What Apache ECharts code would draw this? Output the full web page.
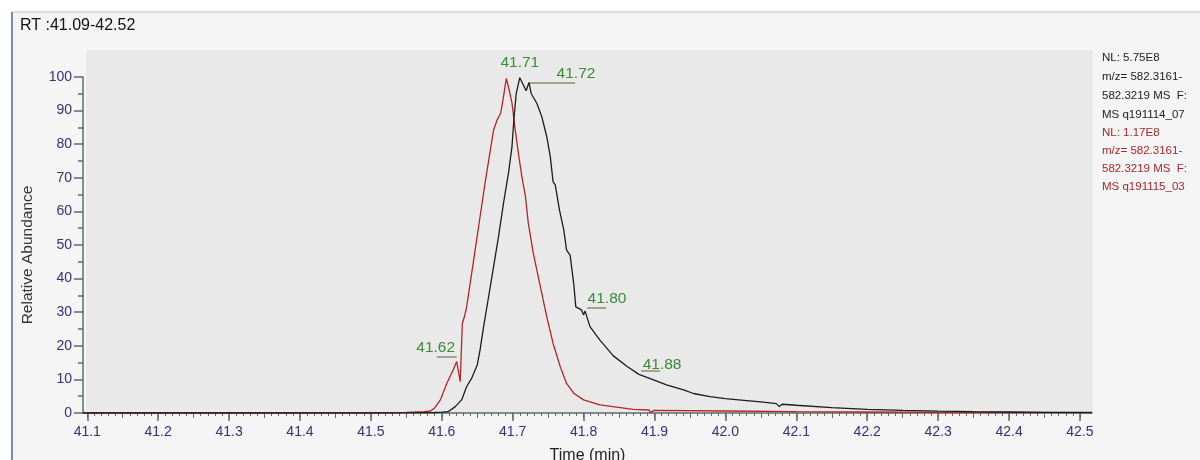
<!DOCTYPE html>
<html>
<head>
<meta charset="utf-8">
<title>RT 41.09-42.52</title>
<script src="https://cdn.jsdelivr.net/npm/echarts@6/dist/echarts.min.js"></script>
<style>
  html, body { margin: 0; padding: 0; background: #fff; }
  #main { width: 1200px; height: 460px; }
</style>
</head>
<body>
<div id="main"></div>
<script>
// black trace: NL 5.75E8, q191114_07
var blackTimes = [41.094, 41.30, 41.50, 41.56, 41.59, 41.60, 41.609, 41.619, 41.628, 41.635, 41.642, 41.650,
  41.654, 41.659, 41.666, 41.673, 41.680, 41.687, 41.694, 41.699, 41.702, 41.705, 41.710, 41.719, 41.723,
  41.726, 41.734, 41.741, 41.748, 41.753, 41.757, 41.760, 41.766, 41.772, 41.776, 41.781, 41.786, 41.789,
  41.797, 41.800, 41.802, 41.809, 41.823, 41.842, 41.861, 41.878, 41.894, 41.917, 41.941, 41.955, 41.978,
  42.00, 42.03, 42.05, 42.072, 42.076, 42.08, 42.10, 42.15, 42.20, 42.25, 42.30, 42.35, 42.40, 42.45, 42.517];
var blackValues = [0, 0, 0, 0.05, 0.15, 0.25, 0.4, 1.9, 3.9, 7.8, 10.3, 14.3,
  18.8, 25.7, 34.6, 43.5, 52.5, 62.4, 71.3, 79.3, 88.2, 95.1, 99.8, 95.9, 98.4,
  95.1, 92.2, 88.2, 82.3, 76.3, 68.8, 67.9, 60.4, 54.5, 48.5, 47.0, 38.6, 31.6,
  30.7, 29.2, 30.4, 25.7, 21.7, 17.0, 13.9, 11.5, 10.2, 8.4, 6.9, 5.8, 4.9,
  4.3, 3.7, 3.3, 2.8, 1.9, 2.6, 2.3, 1.6, 1.1, 0.8, 0.55, 0.4, 0.3, 0.2, 0.15];

// red trace: NL 1.17E8, q191115_03
var redTimes = [41.094, 41.30, 41.50, 41.55, 41.575, 41.584, 41.590, 41.598, 41.607, 41.616, 41.621, 41.626,
  41.629, 41.632, 41.635, 41.640, 41.647, 41.654, 41.661, 41.667, 41.673, 41.678, 41.683, 41.687, 41.691,
  41.694, 41.699, 41.703, 41.708, 41.713, 41.718, 41.722, 41.729, 41.739, 41.748, 41.757, 41.767, 41.776,
  41.786, 41.800, 41.823, 41.870, 41.892, 41.895, 41.899, 42.00, 42.10, 42.20, 42.30, 42.40, 42.517];
var redValues = [0, 0, 0.05, 0.2, 0.4, 0.6, 1.5, 3.9, 8.8, 12.8, 15.3, 9.3,
  26.7, 28.7, 31.6, 38.6, 48.5, 58.4, 68.4, 76.3, 84.2, 87.2, 89.2, 94.1, 99.6,
  97.1, 92.2, 85.2, 77.3, 70.3, 64.4, 56.5, 47.6, 37.6, 28.7, 20.7, 13.8, 8.8,
  5.9, 3.9, 2.4, 1.1, 0.9, 0.1, 0.8, 0.6, 0.4, 0.3, 0.2, 0.15, 0.1];

// peak annotations
var peakLabels = ['41.62', '41.71', '41.72', '41.80', '41.88'];
var peakTimes = [41.621, 41.710, 41.723, 41.802, 41.881];
var peakValues = [15.3, 99.8, 98.4, 30.4, 11.2];
var peakTrace = ['red', 'black', 'black', 'black', 'black'];

var xTicks = [41.1, 41.2, 41.3, 41.4, 41.5, 41.6, 41.7, 41.8, 41.9, 42.0, 42.1, 42.2, 42.3, 42.4, 42.5];
var yTicks = [0, 10, 20, 30, 40, 50, 60, 70, 80, 90, 100];

var infoBlack = ['NL: 5.75E8', 'm/z= 582.3161-', '582.3219 MS  F:', 'MS q191114_07'];
var infoRed = ['NL: 1.17E8', 'm/z= 582.3161-', '582.3219 MS  F:', 'MS q191115_03'];

function pairs(ts, vs) {
  var out = [];
  for (var i = 0; i < ts.length; i++) out.push([ts[i], vs[i]]);
  return out;
}

var FONT = '"Liberation Sans", Arial, sans-serif';
var X_MIN = 41.094, X_MAX = 42.517;
var GL = 83, GR = 108, GT = 77, GB = 47;
var W = 1200 - GL - GR;
function px(t) { return GL + (t - X_MIN) / (X_MAX - X_MIN) * W; }
var tickLeft = px(xTicks[0]);
var tickRight = 1200 - px(xTicks[xTicks.length - 1]);

var axisColor = '#5f6b6b';
var labelColor = '#32327c';
var green = '#3b8a35';
var leaderColor = '#8b8b6e';

// label offsets (px) and leader segments (data units) for each annotation
var annoStyle = [
  { off: [-21, -14], line: [[41.593, 16.7], [41.621, 16.7]] },
  { off: [0, -15], line: null },
  { off: [47, -9], line: [[41.724, 98.2], [41.788, 98.2]] },
  { off: [22, -12], line: [[41.805, 31.3], [41.832, 31.3]] },
  { off: [21, -11], line: [[41.881, 12.5], [41.908, 12.5]] }
];

function markers(trace) {
  var pts = [], lines = [];
  for (var i = 0; i < peakLabels.length; i++) {
    if (peakTrace[i] !== trace) continue;
    pts.push({
      coord: [peakTimes[i], peakValues[i]],
      value: peakLabels[i],
      label: { offset: annoStyle[i].off }
    });
    if (annoStyle[i].line) {
      lines.push([{ coord: annoStyle[i].line[0] }, { coord: annoStyle[i].line[1] }]);
    }
  }
  return {
    markPoint: {
      symbol: 'circle', symbolSize: 0, silent: true,
      itemStyle: { color: 'transparent' },
      label: { show: true, position: 'inside', color: green, fontSize: 15.5, fontFamily: FONT,
        formatter: function (p) { return p.value; } },
      data: pts
    },
    markLine: {
      symbol: ['none', 'none'], silent: true,
      label: { show: false },
      lineStyle: { color: leaderColor, width: 1.5, type: 'solid' },
      emphasis: { disabled: true },
      data: lines
    }
  };
}

var graphics = [
  { type: 'rect', z: -30, shape: { x: 12, y: 12, width: 1188, height: 448 }, style: { fill: '#f5f5f5' } },
  { type: 'line', z: -20, shape: { x1: 12, y1: 12, x2: 1200, y2: 12 }, style: { stroke: '#c9d6e3', lineWidth: 1.5 } },
  { type: 'line', z: -20, shape: { x1: 12, y1: 12, x2: 12, y2: 460 }, style: { stroke: '#7e8fa3', lineWidth: 2 } },
  { type: 'rect', z: -10, shape: { x: 86, y: 50, width: 1007, height: 363 }, style: { fill: '#e9e9e9' } }
];
infoBlack.forEach(function (s, i) {
  graphics.push({ type: 'text', x: 1102, y: 58 + i * 18.8,
    style: { text: s, fill: '#222', font: '11.5px ' + FONT, verticalAlign: 'middle' } });
});
infoRed.forEach(function (s, i) {
  graphics.push({ type: 'text', x: 1102, y: 133 + i * 18,
    style: { text: s, fill: '#a8262b', font: '11.5px ' + FONT, verticalAlign: 'middle' } });
});

var chart = echarts.init(document.getElementById('main'), null, { renderer: 'canvas' });

var blackSeries = Object.assign({
  name: 'black', type: 'line', xAxisIndex: 0, yAxisIndex: 0,
  data: pairs(blackTimes, blackValues),
  showSymbol: false, smooth: false, z: 4,
  lineStyle: { color: '#1c1c1c', width: 1.3 }
}, markers('black'));

var redSeries = Object.assign({
  name: 'red', type: 'line', xAxisIndex: 0, yAxisIndex: 0,
  data: pairs(redTimes, redValues),
  showSymbol: false, smooth: false, z: 3,
  lineStyle: { color: '#b3252a', width: 1.3 }
}, markers('red'));

var option = {
  backgroundColor: '#ffffff',
  animation: false,
  title: {
    text: 'RT :41.09-42.52', left: 15, top: 13,
    textStyle: { fontSize: 16, fontWeight: 'normal', color: '#111', fontFamily: FONT }
  },
  graphic: graphics,
  grid: [
    { left: GL, right: GR, top: GT, bottom: GB, outerBoundsMode: 'none' },
    { left: tickLeft, right: tickRight, top: GT, bottom: GB, outerBoundsMode: 'none' }
  ],
  xAxis: [
    {
      gridIndex: 0, type: 'value', position: 'bottom', min: X_MIN, max: X_MAX,
      axisLine: { show: true, lineStyle: { color: axisColor, width: 1.5 } },
      axisTick: { show: false }, axisLabel: { show: false }, splitLine: { show: false },
      name: 'Time (min)', nameLocation: 'middle', nameGap: 35,
      nameTextStyle: { color: '#222', fontSize: 16, fontFamily: FONT }
    },
    {
      gridIndex: 1, type: 'value', position: 'bottom', offset: 0,
      min: xTicks[0], max: xTicks[xTicks.length - 1], interval: 0.01,
      axisLine: { show: false }, axisLabel: { show: false }, splitLine: { show: false },
      axisTick: { show: true, length: 3, lineStyle: { color: axisColor, width: 1 } }
    },
    {
      gridIndex: 1, type: 'value', position: 'bottom', offset: 0,
      min: xTicks[0], max: xTicks[xTicks.length - 1], interval: 0.05,
      axisLine: { show: false }, axisLabel: { show: false }, splitLine: { show: false },
      axisTick: { show: true, length: 5, lineStyle: { color: axisColor, width: 1 } }
    },
    {
      gridIndex: 1, type: 'value', position: 'bottom', offset: 0,
      min: xTicks[0], max: xTicks[xTicks.length - 1], interval: 0.1,
      axisLine: { show: false }, splitLine: { show: false },
      axisTick: { show: true, length: 8, lineStyle: { color: axisColor, width: 1.5 } },
      axisLabel: { show: true, margin: 12, color: labelColor, fontSize: 14, fontFamily: FONT,
        formatter: function (v) { return v.toFixed(1); } }
    }
  ],
  yAxis: [
    {
      gridIndex: 0, type: 'value', min: yTicks[0], max: yTicks[yTicks.length - 1], interval: 10,
      axisLine: { show: true, lineStyle: { color: axisColor, width: 1.5 } },
      axisTick: { show: true, length: 9, lineStyle: { color: axisColor, width: 1.5 } },
      minorTick: { show: true, splitNumber: 2, length: 5, lineStyle: { color: axisColor, width: 1.5 } },
      splitLine: { show: false },
      axisLabel: { margin: 11, color: labelColor, fontSize: 14, fontFamily: FONT },
      name: 'Relative Abundance', nameLocation: 'middle', nameGap: 47, nameRotate: 90,
      nameTextStyle: { color: '#333', fontSize: 15.5, fontFamily: FONT, padding: [0, 20, 0, 0] }
    },
    { gridIndex: 1, type: 'value', show: false, min: 0, max: 100 }
  ],
  series: [redSeries, blackSeries]
};

chart.setOption(option);
</script>
</body>
</html>
